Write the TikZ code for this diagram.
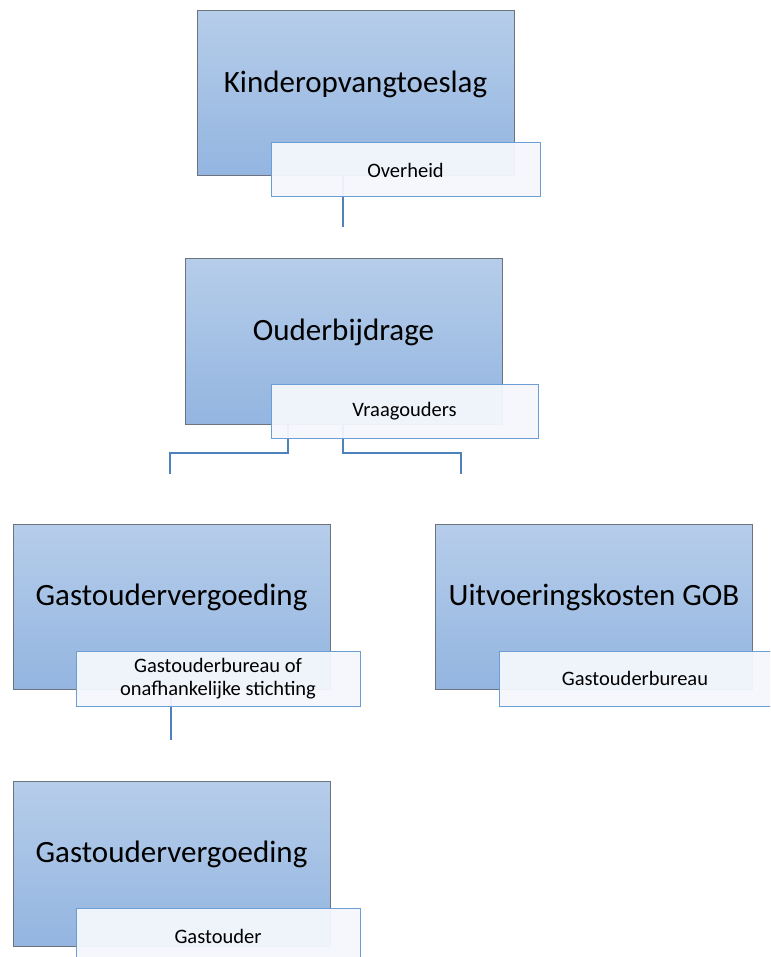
\documentclass[tikz,border=0pt]{standalone}
\usepackage{fontspec}
\setmainfont{Carlito}
\usepackage{tikz}
\usetikzlibrary{positioning, calc}
\definecolor{ocTop}{RGB}{182, 205, 234}
\definecolor{ocBottom}{RGB}{147, 181, 224}
\definecolor{ocEdge}{RGB}{110, 116, 126}
\definecolor{ocLine}{RGB}{79, 129, 189}
\definecolor{ocTagEdge}{RGB}{108, 158, 214}
\definecolor{ocTagFill}{RGB}{244, 247, 252}
\tikzset{
    post/.style={
        rectangle,
        draw=ocEdge,
        line width=1pt,
        top color=ocTop,
        bottom color=ocBottom,
        minimum width=317pt,
        minimum height=165pt,
        inner sep=0pt
    },
    posttext/.style={
        font=\fontsize{31}{36}\selectfont,
        text=black,
        inner sep=0pt
    },
    tag/.style={
        rectangle,
        draw=ocTagEdge,
        line width=1pt,
        fill=ocTagFill,
        fill opacity=0.95,
        text opacity=1,
        font=\fontsize{20.5}{23}\selectfont,
        align=center,
        minimum height=54pt,
        inner sep=0pt
    },
    link/.style={
        line width=2pt,
        color=ocLine
    }
}
\begin{document}
\begin{tikzpicture}[x=1pt, y=-1pt]
  \useasboundingbox (0,0) rectangle (770,957);
  \clip (0,0) rectangle (770,957);

  % Boxes
  \node[post] (toeslag) at (355.5,93) {};
  \node[post] (ouder) at (343.5,341.5) {};
  \node[post] (gastvergoed) at (171.5,606.5) {};
  \node[post] (uitvoering) at (594,606.5) {};
  \node[post] (gastouder) at (171.5,863.5) {};

  \node[posttext] (toeslagtxt) at (355.5,84) {Kinderopvangtoeslag};
  \node[posttext] (oudertxt) at (343.5,332) {Ouderbijdrage};
  \node[posttext] (gastvergoedtxt) at (171.5,597) {Gastoudervergoeding};
  \node[posttext] (uitvoeringtxt) at (594,597) {Uitvoeringskosten GOB};
  \node[posttext] (gastoudertxt) at (171.5,854) {Gastoudervergoeding};

  % Connectors
  \coordinate (j1) at (343,227);
  \coordinate (j2l) at (170,474);
  \coordinate (j2r) at (461,474);
  \coordinate (j3) at (171,740);

  \draw[link] (toeslag.south -| j1) -- (j1);
  \draw[link] (ouder.south -| 288,0) -- (288,453) -| (j2l);
  \draw[link] (ouder.south -| 343,0) -- (343,453) -| (j2r);
  \draw[link] (gastvergoed.south -| j3) -- (j3);

  % Tags
  \node[tag, minimum width=269pt] (overheid) at (405.5,170) {Overheid};
  \node[tag, minimum width=267pt] (vraagouders) at (404.5,411) {Vraagouders};
  \node[tag, minimum width=284pt, minimum height=55pt] (gob) at (218,678.5)
    {Gastouderbureau of\\onafhankelijke stichting};
  \node[tag, minimum width=272pt, minimum height=55pt] (gobkosten) at (635,678.5) {Gastouderbureau};
  \node[tag, minimum width=284pt, minimum height=55pt] (gastoudertag) at (218,936) {Gastouder};
\end{tikzpicture}
\end{document}
